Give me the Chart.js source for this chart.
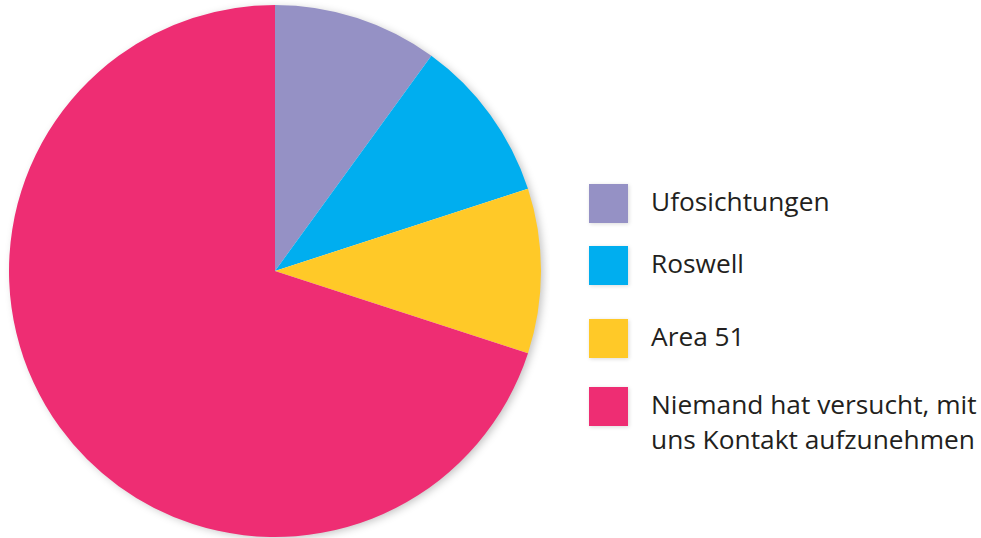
<!DOCTYPE html>
<html>
<head>
<meta charset="utf-8">
<script src="https://cdn.jsdelivr.net/npm/chart.js@4"></script>
<style>
  html, body { margin: 0; padding: 0; background: #fff; }
  #wrap { position: relative; width: 981px; height: 538px; }
  #chartBox { position: absolute; left: 0; top: 0; width: 550px; height: 538px; }
  #legende { position: absolute; left: 589px; top: 0; font-family: "Open Sans", sans-serif; font-size: 26.3px; color: #231f20; }
  .item { position: absolute; left: 0; display: flex; align-items: flex-start; white-space: nowrap; }
  .box { width: 39px; height: 39px; flex: none; margin-right: 23px; box-shadow: 1px 1px 4px rgba(0,0,0,0.15); }
  .txt { line-height: 35px; }
</style>
</head>
<body>
<div id="wrap">
  <div id="chartBox"><canvas id="grafico"></canvas></div>
  <div id="legende"></div>
</div>
<script>
// Dados do gráfico
const categorias = ['Ufosichtungen', 'Roswell', 'Area 51', 'Niemand hat versucht, mit\nuns Kontakt aufzunehmen'];
const valores = [10, 10, 10, 70];
const cores = ['#9591c5', '#00aeef', '#ffc928', '#ee2d73'];
// posição vertical (centro) de cada item da legenda
const legendaY = [203, 265, 338, 406];

// Sombra suave atrás da pizza
const sombra = {
    id: 'sombra',
    beforeDatasetsDraw(chart) {
        const arc = chart.getDatasetMeta(0).data[0];
        if (!arc) return;
        const ctx = chart.ctx;
        ctx.save();
        ctx.shadowColor = 'rgba(0,0,0,0.25)';
        ctx.shadowBlur = 8;
        ctx.shadowOffsetX = 3;
        ctx.shadowOffsetY = 2;
        ctx.fillStyle = '#fff';
        ctx.beginPath();
        ctx.arc(arc.x, arc.y, arc.outerRadius - 1, 0, Math.PI * 2);
        ctx.fill();
        ctx.restore();
    }
};

new Chart(document.getElementById('grafico'), {
    type: 'pie',
    data: {
        labels: categorias,
        datasets: [{
            data: valores,
            backgroundColor: cores,
            borderWidth: 0
        }]
    },
    options: {
        responsive: true,
        maintainAspectRatio: false,
        animation: false,
        layout: { padding: { top: 5, bottom: 1, left: 9, right: 9 } },
        plugins: {
            legend: { display: false },
            tooltip: { enabled: false }
        }
    },
    plugins: [sombra]
});

// Legenda em HTML
const legende = document.getElementById('legende');
categorias.forEach((cat, i) => {
    const item = document.createElement('div');
    item.className = 'item';
    const linhas = cat.split('\n');
    item.style.top = (legendaY[i] - 19.5) + 'px';
    item.innerHTML = `<div class="box" style="background:${cores[i]}"></div>` +
        `<div class="txt" style="margin-top:0px">${linhas.join('<br>')}</div>`;
    legende.appendChild(item);
});
</script>
</body>
</html>
